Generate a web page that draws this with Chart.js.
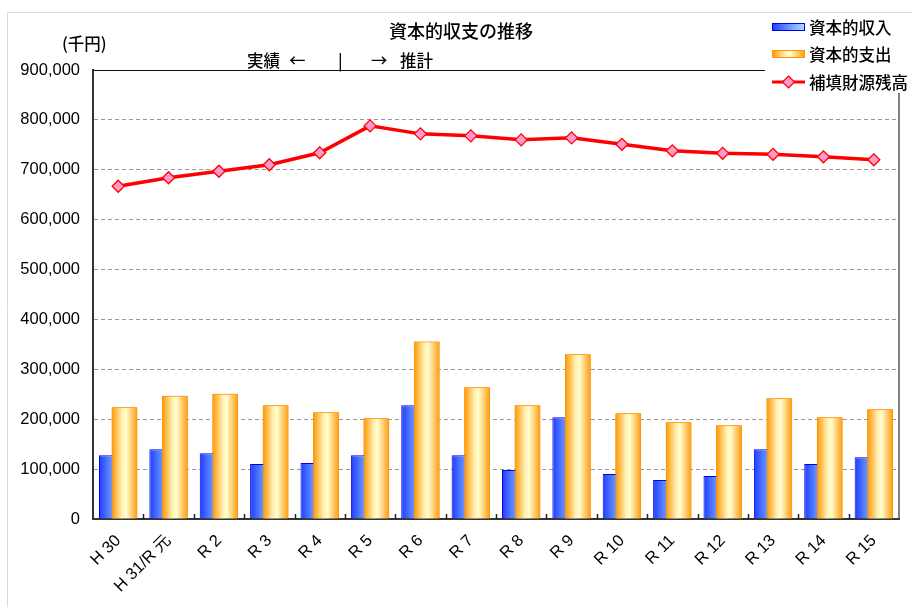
<!DOCTYPE html>
<html>
<head>
<meta charset="utf-8">
<script src="https://cdn.jsdelivr.net/npm/chart.js@4/dist/chart.umd.min.js"></script>
<style>
  body { margin: 0; background: #fff; }
  #wrap { width: 912px; height: 607px; }
</style>
</head>
<body>
<div id="wrap"><canvas id="myChart" width="912" height="607"></canvas></div>
<script>
let categories = ["H 30", "H 31/R 元", "R 2", "R 3", "R 4", "R 5", "R 6", "R 7", "R 8", "R 9", "R 10", "R 11", "R 12", "R 13", "R 14", "R 15"];
let income = [128000, 140000, 132000, 110000, 112000, 128000, 228000, 128000, 98000, 204000, 90000, 78000, 86000, 140000, 110000, 124000];
let expense = [224000, 247000, 251000, 228000, 214000, 202000, 356000, 264000, 228000, 330000, 212000, 194000, 188000, 242000, 204000, 220000];
let balance = [667000, 684000, 697000, 710000, 734000, 788000, 772000, 768000, 760000, 764000, 751000, 738000, 733000, 731000, 726000, 720000];
let seriesNames = ["資本的収入", "資本的支出", "補填財源残高"];
let yMin = 0;
let yMax = 900000;
let yStep = 100000;

let titleText = "資本的収支の推移";
let unitText = "(千円)";

const jpFont = "'Noto Sans CJK JP', sans-serif";
const numFont = "'Liberation Sans', 'Noto Sans CJK JP', sans-serif";

function blueGrad(ctx, x0, x1) {
  let g = ctx.createLinearGradient(x0, 0, x1, 0);
  g.addColorStop(0, "#1f3cff");
  g.addColorStop(0.55, "#6f9dff");
  g.addColorStop(1, "#b4dcff");
  return g;
}

function orangeGrad(ctx, x0, x1) {
  let g = ctx.createLinearGradient(x0, 0, x1, 0);
  g.addColorStop(0, "#ff9500");
  g.addColorStop(0.4, "#ffefb0");
  g.addColorStop(0.55, "#ffffd0");
  g.addColorStop(1, "#ff9a10");
  return g;
}

const decor = {
  id: "decor",
  beforeDatasetsDraw(chart) {
    // gradient fill for each bar
    const ctx = chart.ctx;
    [0, 1].forEach(i => {
      chart.getDatasetMeta(i).data.forEach(el => {
        let x0 = el.x - el.width / 2;
        let x1 = el.x + el.width / 2;
        let g = i == 0 ? blueGrad(ctx, x0, x1) : orangeGrad(ctx, x0, x1);
        el.options = Object.assign({}, el.options, { backgroundColor: g });
      });
    });
  },
  afterDatasetDraw(chart, args) {
    // orange bars sit in front of the blue ones
    if (args.index === 0) {
      chart.getDatasetMeta(1).controller.draw();
    }
  },
  afterDraw(chart) {
    const ctx = chart.ctx;
    const a = chart.chartArea;
    const xs = chart.scales.x;
    ctx.save();

    // outer border
    ctx.strokeStyle = "#d9d9d9";
    ctx.lineWidth = 1;
    ctx.beginPath();
    ctx.moveTo(7.5, 620);
    ctx.lineTo(7.5, 12.5);
    ctx.lineTo(920, 12.5);
    ctx.stroke();

    // plot frame top and right
    ctx.strokeStyle = "#111";
    ctx.lineWidth = 1;
    ctx.beginPath();
    ctx.moveTo(a.left, a.top + 0.5);
    ctx.lineTo(a.right, a.top + 0.5);
    ctx.stroke();
    ctx.strokeStyle = "#555";
    ctx.lineWidth = 1.5;
    ctx.beginPath();
    ctx.moveTo(a.right, a.top);
    ctx.lineTo(a.right, a.bottom);
    ctx.stroke();

    // small ticks between categories, pointing up
    ctx.strokeStyle = "#222";
    ctx.lineWidth = 1.5;
    let half = (xs.getPixelForValue(1) - xs.getPixelForValue(0)) / 2;
    for (let i = 1; i < categories.length; i++) {
      let x = Math.round(xs.getPixelForValue(i) - half) + 0.5;
      ctx.beginPath();
      ctx.moveTo(x, a.bottom);
      ctx.lineTo(x, a.bottom - 5);
      ctx.stroke();
    }

    // legend box
    ctx.fillStyle = "#fff";
    ctx.fillRect(765, 14, 147, 79);
    let ly = [27, 54, 82];
    let sx0 = 772, sx1 = 805;
    ctx.lineWidth = 1;
    ctx.fillStyle = blueGrad(ctx, sx0, sx1);
    ctx.fillRect(sx0, ly[0] - 4, sx1 - sx0, 8);
    ctx.strokeStyle = "#0000ee";
    ctx.strokeRect(sx0 + 0.5, ly[0] - 3.5, sx1 - sx0 - 1, 7);
    ctx.fillStyle = orangeGrad(ctx, sx0, sx1);
    ctx.fillRect(sx0, ly[1] - 4, sx1 - sx0, 8);
    ctx.strokeStyle = "#ff9500";
    ctx.strokeRect(sx0 + 0.5, ly[1] - 3.5, sx1 - sx0 - 1, 7);
    ctx.strokeStyle = "#ff0000";
    ctx.lineWidth = 3;
    ctx.beginPath();
    ctx.moveTo(sx0, ly[2]);
    ctx.lineTo(sx1, ly[2]);
    ctx.stroke();
    let cx = (sx0 + sx1) / 2;
    ctx.fillStyle = "#ff99cc";
    ctx.lineWidth = 1.2;
    ctx.beginPath();
    ctx.moveTo(cx, ly[2] - 6);
    ctx.lineTo(cx + 6, ly[2]);
    ctx.lineTo(cx, ly[2] + 6);
    ctx.lineTo(cx - 6, ly[2]);
    ctx.closePath();
    ctx.fill();
    ctx.stroke();

    ctx.fillStyle = "#000";
    ctx.textBaseline = "middle";
    ctx.textAlign = "left";
    ctx.font = "500 16.5px " + jpFont;
    seriesNames.forEach((n, i) => ctx.fillText(n, 809, ly[i] + 1));

    // title and notes
    ctx.font = "500 18px " + jpFont;
    ctx.textAlign = "center";
    ctx.fillText(titleText, 461, 31);
    ctx.font = "500 16.5px " + jpFont;
    ctx.textAlign = "left";
    ctx.fillText(unitText, 62, 44);
    ctx.fillText("実績", 247, 61);
    ctx.fillText("←", 289, 61);
    ctx.fillText("|", 338, 61);
    ctx.fillText("→", 371, 61);
    ctx.fillText("推計", 400, 61);

    ctx.restore();
  }
};

const data = {
  labels: categories,
  datasets: [
    {
      type: "bar",
      label: seriesNames[0],
      data: income,
      backgroundColor: "#6f9dff",
      borderColor: "#0000ee",
      borderWidth: 1,
      categoryPercentage: 0.5,
      barPercentage: 2.05,
      order: 1,
    },
    {
      type: "bar",
      label: seriesNames[1],
      data: expense,
      backgroundColor: "#ffd080",
      borderColor: "#ff9500",
      borderWidth: 1,
      categoryPercentage: 0.5,
      barPercentage: 2.05,
      order: 1,
    },
    {
      type: "line",
      label: seriesNames[2],
      data: balance,
      borderColor: "#ff0000",
      borderWidth: 3.5,
      pointStyle: "rectRot",
      pointRadius: 6,
      pointBackgroundColor: "#ff99cc",
      pointBorderColor: "#ff0000",
      pointBorderWidth: 1.3,
      tension: 0,
      order: -1,
    },
  ],
};

const config = {
  type: "bar",
  data: data,
  plugins: [decor],
  options: {
    responsive: false,
    animation: false,
    layout: { padding: { top: 70, right: 13, left: 0, bottom: 0 } },
    plugins: {
      legend: { display: false },
      title: { display: false },
      tooltip: { enabled: false },
    },
    scales: {
      x: {
        grid: { display: false },
        border: { display: true, color: "#333", width: 2 },
        ticks: {
          color: "#000",
          font: { family: numFont, size: 16.5 },
          minRotation: 45,
          maxRotation: 45,
          autoSkip: false,
          padding: 4,
        },
        afterFit(scale) { scale.height = 88; },
      },
      y: {
        min: yMin,
        max: yMax,
        grid: {
          color: (c) => (c.tick && (c.tick.value === yMin || c.tick.value === yMax)) ? "rgba(0,0,0,0)" : "#9a9a9a",
          lineWidth: 1,
          drawTicks: false,
        },
        border: { display: true, color: "#333", width: 2, dash: [4, 3] },
        ticks: {
          stepSize: yStep,
          color: "#000",
          font: { family: numFont, size: 16.5 },
          padding: 13,
          callback: (v) => v.toLocaleString("en-US"),
        },
        afterFit(scale) { scale.width = 93; },
      },
    },
  },
};

const myChart = new Chart(document.getElementById("myChart"), config);
</script>
</body>
</html>
